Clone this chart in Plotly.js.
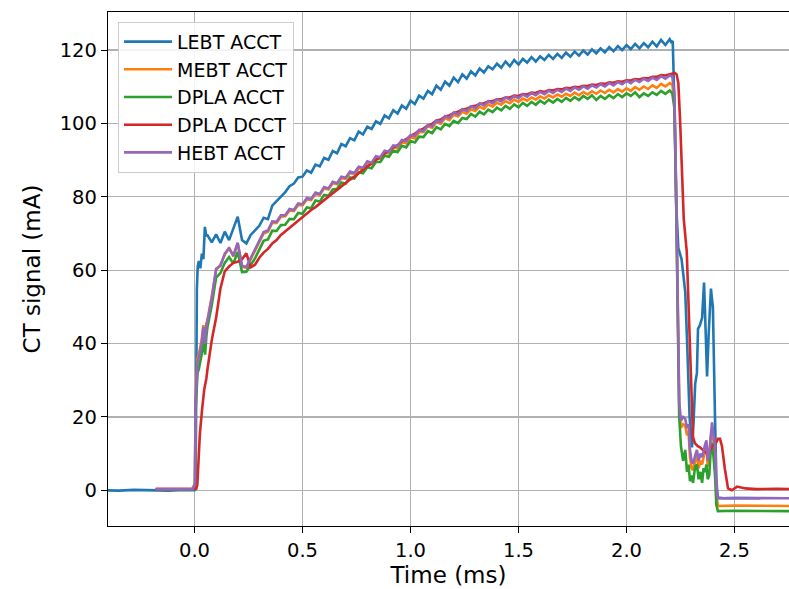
<!DOCTYPE html>
<html><head><meta charset="utf-8">
<script src="https://cdn.plot.ly/plotly-3.0.1.min.js"></script>
<style>html,body{margin:0;padding:0;background:#fff;overflow:hidden}#chart{width:789px;height:589px}</style>
</head><body><div id="chart"></div>
<script>
// shared time grid for the flat-top part of the pulse (ms)
const tMain = [
0.06,0.08,0.10,0.12,0.14,0.16,0.18,0.20,0.22,0.24,
0.26,0.28,0.30,0.32,0.34,0.36,0.38,0.40,0.42,0.44,
0.46,0.48,0.50,0.52,0.54,0.56,0.58,0.60,0.62,0.64,
0.66,0.68,0.70,0.72,0.74,0.76,0.78,0.80,0.82,0.84,
0.86,0.88,0.90,0.92,0.94,0.96,0.98,1.00,1.02,1.04,
1.06,1.08,1.10,1.12,1.14,1.16,1.18,1.20,1.22,1.24,
1.26,1.28,1.30,1.32,1.34,1.36,1.38,1.40,1.42,1.44,
1.46,1.48,1.50,1.52,1.54,1.56,1.58,1.60,1.62,1.64,
1.66,1.68,1.70,1.72,1.74,1.76,1.78,1.80,1.82,1.84,
1.86,1.88,1.90,1.92,1.94,1.96,1.98,2.00,2.02,2.04,
2.06,2.08,2.10,2.12,2.14,2.16,2.18,2.20];

// LEBT ACCT
const lebtHeadT = [-0.42,-0.35,-0.28,-0.20,-0.12,-0.05,0.0,0.005,0.008,0.011,0.015,0.020,0.027,0.034,0.041,0.048,0.054];
const lebtHeadV = [0.0,-0.1,0.1,0.0,-0.1,0.1,0.0,0.3,30,55,61,62.5,60.5,64.5,63,71.8,69.5];
const lebtMainV = [
69.5,67.6,69.8,67.4,70.5,68.2,71.4,74.6,68.2,67.3,
69.6,70.8,72.1,74.3,73.9,77.6,78.8,80.2,81.3,82.9,
83.6,85.3,85.5,87.2,86.6,88.8,88.3,90.6,90.1,92.5,
91.9,94.4,93.8,96.0,95.4,97.8,97.0,99.1,98.5,100.6,
99.9,102.2,101.4,103.6,102.7,104.9,104.0,106.2,105.3,107.6,
106.8,108.9,108.0,110.3,109.2,111.4,110.3,112.5,111.3,113.4,
112.2,114.2,113.1,115.0,113.9,115.6,114.8,116.3,115.2,116.9,
115.6,117.3,116.1,117.6,116.6,118.1,116.9,118.3,117.3,118.7,
117.6,119.0,117.9,119.3,118.2,119.6,118.5,119.9,118.8,120.2,
119.1,120.5,119.4,120.8,119.7,121.1,120.0,121.4,120.3,121.7,
120.5,121.9,120.8,122.3,121.0,122.8,121.4,123.0];
const lebtTailT = [2.207,2.214,2.222,2.230,2.240,2.255,2.265,2.272,2.282,2.292,2.303,2.310,2.318,2.326,2.331,2.340,2.350,2.359,2.366,2.373,2.380,2.391,2.396,2.400,2.410,2.416,2.422,2.45,2.50,2.55,2.62];
const lebtTailV = [122.2,122.5,105,78,66,63,58,54,38,20,11.7,18,29,32,44,45,47,56.6,44,31,42,55,52,50,19,3,-2.0,-2.2,-2.1,-2.2,-2.2];

// MEBT ACCT
const mebtHeadT = [-0.18,-0.12,-0.06,-0.01,0.002,0.005,0.009,0.014,0.020,0.027,0.033,0.041,0.049,0.055];
const mebtHeadV = [0.3,0.4,0.3,0.3,2,25,32,36,37,39,41,45,41,45.5];
const mebtMainV = [
46.5,52.8,60.0,61.5,64.2,66.2,63.7,67.3,61.0,60.6,
63.0,65.0,67.6,70.0,70.5,72.9,72.9,74.6,74.7,76.3,
76.1,77.8,77.7,79.3,79.1,80.8,80.5,82.3,82.0,83.7,
83.4,85.1,84.9,86.5,86.2,87.8,87.5,89.3,88.9,90.7,
90.4,92.1,91.8,93.5,93.2,94.9,94.6,96.3,95.9,97.6,
97.7,99.3,98.8,100.4,99.9,101.5,100.9,102.4,101.9,103.2,
102.7,103.9,103.4,104.6,104.0,105.2,104.6,105.7,105.1,106.1,
105.5,106.5,105.9,106.8,106.2,107.1,106.5,107.4,106.8,107.7,
107.1,107.9,107.3,108.1,107.5,108.4,107.7,108.6,107.9,108.8,
108.1,109.0,108.3,109.2,108.5,109.4,108.7,109.6,108.9,109.9,
109.2,110.1,109.4,110.4,109.7,110.8,110.1,111.0];
const mebtTailT = [2.212,2.222,2.229,2.236,2.244,2.252,2.262,2.272,2.280,2.287,2.294,2.301,2.308,2.318,2.326,2.334,2.342,2.350,2.357,2.364,2.370,2.376,2.383,2.390,2.396,2.403,2.410,2.416,2.423,2.5,2.6,2.7,2.8];
const mebtTailV = [110.6,106,84,50,23,17,18,17.5,15,16,9,6,5.5,8,9.5,6,8,7,9.5,11,12,6.5,8.5,14.5,16.5,13,10,-1,-4.3,-4.2,-4.3,-4.3,-4.3];

// DPLA ACCT
const dplaHeadT = [-0.18,-0.12,-0.06,-0.01,0.002,0.005,0.009,0.014,0.020,0.027,0.033,0.041,0.049,0.055];
const dplaHeadV = [0.2,0.3,0.2,0.2,1.5,22,29,32,33,35,37,41,37,42];
const dplaMainV = [
44.5,50.5,58.0,59.2,62.0,63.6,61.8,65.0,59.5,59.6,
61.5,63.2,65.6,68.0,68.4,70.8,70.7,72.3,72.4,74.0,
73.9,75.6,75.4,77.1,76.9,79.0,78.7,80.5,80.3,82.0,
82.2,83.9,83.6,85.3,85.0,86.7,86.4,88.1,87.8,89.5,
89.5,91.2,90.9,92.6,92.2,93.9,93.5,95.2,94.8,96.4,
96.3,97.9,97.4,99.0,98.4,99.9,99.3,100.7,100.1,101.5,
101.2,102.6,101.9,103.2,102.5,103.8,103.1,104.3,103.6,104.8,
104.0,105.2,104.4,105.6,104.8,105.9,105.1,106.2,105.4,106.5,
105.7,106.7,105.9,107.0,106.2,107.2,106.4,107.5,106.7,107.7,
106.4,107.5,106.7,107.7,106.9,108.0,107.2,108.2,107.5,108.5,
107.2,108.2,107.5,108.5,107.8,108.9,108.1,109.0];
const dplaTailT = [2.212,2.222,2.229,2.236,2.244,2.252,2.262,2.272,2.280,2.287,2.294,2.301,2.308,2.318,2.326,2.334,2.342,2.350,2.357,2.364,2.370,2.376,2.383,2.390,2.396,2.403,2.410,2.416,2.423,2.5,2.6,2.7,2.8];
const dplaTailV = [108.2,104,82,48,20,12,8,11,5,7,2.5,4,2,6.5,7,3,5,2,6,5,7,3,4,11,13,9,4,-4,-5.7,-5.6,-5.7,-5.7,-5.7];

// DPLA DCCT
const dcctHeadT = [-0.18,-0.10,-0.02,0.008,0.013,0.018,0.025,0.035,0.045,0.055];
const dcctHeadV = [0.3,0.4,0.3,0.4,1.5,7,15.5,22,27.5,30.5];
const dcctMainV = [
33.0,41.0,47.0,55.0,59.7,61.0,62.0,62.3,63.0,64.6,
60.8,61.5,63.4,64.8,65.8,67.3,68.2,69.6,70.6,71.6,
72.6,73.6,74.5,75.4,76.4,77.2,78.2,79.1,80.0,81.0,
81.9,82.9,83.7,84.7,85.5,86.5,87.3,88.3,89.1,90.1,
90.8,91.8,92.5,93.5,94.1,95.1,95.7,96.6,97.2,98.1,
98.6,99.5,99.9,100.8,101.1,101.9,102.2,102.9,103.2,103.8,
104.0,104.6,104.8,105.3,105.5,106.0,106.1,106.6,106.6,107.1,
107.1,107.6,107.5,108.0,107.9,108.4,108.3,108.8,108.6,109.1,
109.0,109.4,109.3,109.7,109.6,110.0,109.9,110.3,110.2,110.6,
110.5,110.9,110.8,111.2,111.1,111.5,111.4,111.8,111.7,112.1,
112.0,112.4,112.3,112.7,112.7,113.2,113.1,113.5];
const dcctTailT = [2.214,2.224,2.232,2.240,2.248,2.256,2.265,2.279,2.287,2.294,2.301,2.308,2.317,2.330,2.340,2.355,2.373,2.385,2.396,2.410,2.424,2.433,2.442,2.455,2.470,2.488,2.500,2.512,2.55,2.6,2.7,2.8];
const dcctTailV = [113.6,113.8,113.4,111,101,87,74,65,50,38,24,14.4,12.8,12,11.7,11,10,10.5,12,12.5,14,14,12,6,0.5,0,0.6,1,0.5,0.3,0.4,0.3];

// HEBT ACCT
const hebtHeadT = [-0.18,-0.12,-0.06,-0.01,0.002,0.005,0.009,0.014,0.020,0.027,0.033,0.041,0.049,0.055];
const hebtHeadV = [0.3,0.2,0.3,0.3,1.5,24,31,35,36,38,40,44.5,40,45];
const hebtMainV = [
46.0,52.5,60.4,61.2,64.5,65.9,64.0,67.5,61.2,60.9,
63.2,65.4,67.9,70.4,70.8,73.3,73.2,75.0,75.0,76.7,
76.4,78.2,78.0,79.7,79.4,81.2,80.8,82.7,82.3,84.1,
83.7,85.5,85.2,86.9,86.5,88.2,87.9,89.7,89.3,91.1,
90.8,92.6,92.3,94.0,93.8,95.5,95.2,96.9,96.6,98.3,
97.9,99.6,99.2,100.8,100.4,102.0,101.5,103.0,102.5,103.9,
103.4,104.7,104.2,105.5,104.9,106.1,105.5,106.6,106.0,107.1,
106.5,107.5,106.9,107.9,107.3,108.3,107.7,108.6,108.0,108.9,
108.3,109.2,108.6,109.5,108.9,109.8,109.2,110.1,109.5,110.4,
109.8,110.7,110.1,111.0,110.4,111.3,110.7,111.6,111.0,111.9,
111.3,112.2,111.6,112.5,111.9,112.9,112.2,113.1];
const hebtTailT = [2.212,2.222,2.229,2.236,2.244,2.252,2.262,2.272,2.280,2.287,2.294,2.301,2.308,2.318,2.326,2.334,2.342,2.350,2.357,2.364,2.370,2.376,2.383,2.390,2.396,2.403,2.410,2.416,2.423,2.5,2.6,2.7,2.8];
const hebtTailV = [112.8,108,85,50,24,19,20,19.5,17,18,11,8,7.3,9.5,11,8,10,9,11,12.5,13.6,8,10,16,18.5,15,12,1,-2.2,-2.1,-2.2,-2.2,-2.2];

const seriesNames = ['LEBT ACCT','MEBT ACCT','DPLA ACCT','DPLA DCCT','HEBT ACCT'];
const seriesColors = ['#1f77b4','#ff7f0e','#2ca02c','#d62728','#9467bd'];
const xTickVals = [0,0.5,1,1.5,2,2.5];
const xTickText = ['0.0','0.5','1.0','1.5','2.0','2.5'];
const yTickVals = [0,20,40,60,80,100,120];

const parts = [
  [lebtHeadT,lebtHeadV,lebtMainV,lebtTailT,lebtTailV],
  [mebtHeadT,mebtHeadV,mebtMainV,mebtTailT,mebtTailV],
  [dplaHeadT,dplaHeadV,dplaMainV,dplaTailT,dplaTailV],
  [dcctHeadT,dcctHeadV,dcctMainV,dcctTailT,dcctTailV],
  [hebtHeadT,hebtHeadV,hebtMainV,hebtTailT,hebtTailV]
];
const traces = parts.map((p,i)=>({
  type:'scatter', mode:'lines', name:seriesNames[i],
  x: p[0].concat(tMain, p[3]),
  y: p[1].concat(p[2], p[4]),
  line:{color:seriesColors[i], width:2.6}
}));

const layout = {
  width:789, height:589,
  margin:{l:108, r:0, t:12, b:63},
  paper_bgcolor:'#ffffff', plot_bgcolor:'#ffffff',
  font:{family:'DejaVu Sans', size:19.5, color:'#000'},
  showlegend:true,
  legend:{x:0.0147, y:0.981, xanchor:'left', yanchor:'top', itemwidth:48,
    bgcolor:'rgba(255,255,255,0.85)', bordercolor:'#cccccc', borderwidth:1,
    font:{size:19, family:'DejaVu Sans', color:'#000'}},
  xaxis:{range:[-0.4005,2.7523], tickvals:xTickVals, ticktext:xTickText,
    showgrid:true, gridcolor:'#b0b0b0', gridwidth:1.3, zeroline:false,
    showline:true, linecolor:'#000', linewidth:1.2, mirror:true,
    ticks:'outside', ticklen:6, tickwidth:1.2, tickcolor:'#000',
    tickfont:{size:19.5}, title:{text:'Time (ms)', font:{size:23}, standoff:5}},
  yaxis:{range:[-9.75,130.4], tickvals:yTickVals,
    showgrid:true, gridcolor:'#b0b0b0', gridwidth:1.3, zeroline:false,
    showline:true, linecolor:'#000', linewidth:1.2, mirror:false,
    ticks:'outside', ticklen:6, tickwidth:1.2, tickcolor:'#000',
    tickfont:{size:19.5}, title:{text:'CT signal (mA)', font:{size:23}, standoff:12}}
};
Plotly.newPlot('chart', traces, layout, {staticPlot:true, displayModeBar:false});
</script>
</body></html>
